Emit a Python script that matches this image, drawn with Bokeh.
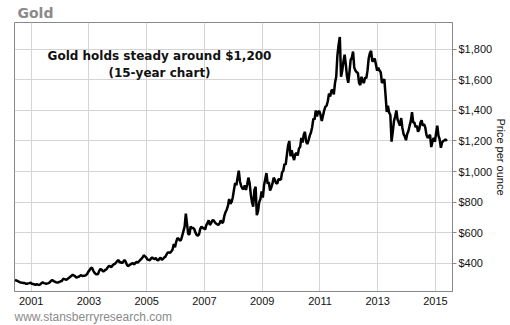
from bokeh.plotting import figure
from bokeh.models import Range1d, FixedTicker, Label, NumeralTickFormatter, Title
from bokeh.embed import file_html
from bokeh.resources import INLINE

# Semi-monthly gold prices (USD/oz)
first_month_2000 = 6  # series starts in June 2000
p2000 = [290, 287, 284, 280, 276, 274, 273, 270, 270, 266, 266, 268, 270, 273]
p2001 = [266, 264, 262, 258, 264, 260, 258, 262, 270, 274, 270, 268,
         266, 268, 270, 276, 285, 290, 283, 280, 276, 274, 274, 278]
p2002 = [282, 284, 298, 296, 294, 292, 300, 305, 312, 318, 325, 320,
         314, 305, 310, 312, 318, 322, 316, 318, 318, 322, 330, 345]
p2003 = [355, 368, 370, 352, 338, 330, 328, 330, 350, 362, 358, 348,
         348, 356, 360, 372, 382, 380, 374, 385, 392, 396, 405, 415]
p2004 = [420, 405, 408, 400, 410, 422, 410, 390, 380, 388, 392, 398,
         400, 392, 402, 408, 405, 412, 420, 428, 438, 452, 445, 438]
p2005 = [425, 422, 420, 430, 438, 430, 428, 434, 422, 418, 430, 436,
         422, 428, 438, 442, 458, 470, 470, 468, 478, 490, 525, 505]
p2006 = [540, 565, 560, 548, 552, 580, 610, 640, 725, 655, 590, 590,
         640, 630, 630, 624, 600, 585, 580, 590, 625, 640, 628, 632]
p2007 = [620, 648, 665, 680, 650, 662, 680, 682, 670, 660, 655, 650,
         660, 680, 665, 668, 710, 735, 750, 775, 820, 790, 800, 830]
p2008 = [880, 925, 910, 960, 1005, 935, 905, 890, 885, 910, 880, 915,
         960, 925, 850, 800, 770, 880, 900, 715, 740, 800, 820, 870]
p2009 = [830, 910, 950, 990, 920, 930, 875, 895, 920, 960, 945, 925,
         920, 950, 950, 945, 995, 1005, 1050, 1045, 1110, 1170, 1200, 1100]
p2010 = [1140, 1100, 1075, 1115, 1120, 1105, 1150, 1160, 1220, 1190, 1240, 1260,
         1195, 1180, 1205, 1235, 1255, 1290, 1345, 1340, 1400, 1360, 1390, 1395]
p2011 = [1370, 1330, 1365, 1400, 1425, 1430, 1460, 1510, 1490, 1530, 1535, 1505,
         1580, 1620, 1760, 1830, 1880, 1620, 1660, 1720, 1765, 1700, 1620, 1580]
p2012 = [1650, 1730, 1745, 1785, 1680, 1660, 1650, 1645, 1580, 1565, 1620, 1590,
         1580, 1615, 1610, 1660, 1740, 1775, 1790, 1720, 1725, 1740, 1700, 1660]
p2013 = [1680, 1660, 1650, 1580, 1590, 1605, 1500, 1390, 1430, 1385, 1370, 1195,
         1260, 1330, 1360, 1400, 1340, 1320, 1300, 1350, 1285, 1245, 1230, 1205]
p2014 = [1245, 1265, 1300, 1330, 1388, 1320, 1320, 1290, 1300, 1260, 1275, 1320,
         1335, 1300, 1310, 1290, 1240, 1220, 1230, 1240, 1160, 1195, 1220, 1195]
p2015 = [1250, 1300, 1235, 1210, 1155, 1190, 1200, 1205, 1210, 1200]

series_by_year = [(2000, p2000), (2001, p2001), (2002, p2002), (2003, p2003),
                  (2004, p2004), (2005, p2005), (2006, p2006), (2007, p2007),
                  (2008, p2008), (2009, p2009), (2010, p2010), (2011, p2011),
                  (2012, p2012), (2013, p2013), (2014, p2014), (2015, p2015)]

year_ticks = [2001, 2003, 2005, 2007, 2009, 2011, 2013, 2015]
price_ticks = [400, 600, 800, 1000, 1200, 1400, 1600, 1800]

xs, ys = [], []
for yr, vals in series_by_year:
    m0 = (first_month_2000 - 1) if yr == 2000 else 0
    for i, v in enumerate(vals):
        xs.append(yr + (m0 + i * 0.5 + 0.25) / 12.0)
        ys.append(v)

p = figure(width=510, height=325,
           x_range=Range1d(2000.42, 2015.59), y_range=Range1d(215, 1975),
           y_axis_location="right", toolbar_location=None, output_backend="svg",
           min_border_left=14, min_border_top=22, min_border_bottom=34,
           min_border_right=0)
p.background_fill_color = "white"
p.border_fill_color = "white"
p.outline_line_color = "#888888"
p.outline_line_width = 1

p.title.text = "Gold"
p.title.align = "left"
p.title.offset = 3
p.title.standoff = 4
p.title.text_font = "DejaVu Sans"
p.title.text_font_style = "bold"
p.title.text_font_size = "14px"
p.title.text_color = "#8a8a8a"

axis_font = "Liberation Sans"
xa = p.xaxis[0]
xa.ticker = FixedTicker(ticks=year_ticks)
xa.axis_line_color = "#888888"
xa.major_tick_out = 0
xa.major_tick_in = 0
xa.minor_tick_line_color = None
xa.major_label_text_font = axis_font
xa.major_label_text_font_size = "11px"
xa.major_label_text_color = "#111111"
xa.major_label_standoff = 5

ya = p.yaxis[0]
ya.ticker = FixedTicker(ticks=price_ticks)
ya.formatter = NumeralTickFormatter(format="$0,0")
ya.axis_line_color = "#888888"
ya.major_tick_line_color = "#888888"
ya.major_tick_out = 4
ya.major_tick_in = 0
ya.minor_tick_line_color = None
ya.major_label_text_font = axis_font
ya.major_label_text_font_size = "11px"
ya.major_label_text_color = "#111111"
ya.major_label_standoff = 2
ya.axis_label = "Price per ounce"
ya.axis_label_text_font = axis_font
ya.axis_label_text_font_size = "11px"
ya.axis_label_text_font_style = "normal"
ya.axis_label_text_color = "#111111"
ya.axis_label_standoff = 0

p.xgrid.ticker = FixedTicker(ticks=year_ticks)
p.ygrid.ticker = FixedTicker(ticks=price_ticks)
p.xgrid.grid_line_color = "#d4d4d4"
p.ygrid.grid_line_color = "#d4d4d4"

p.line(xs, ys, line_color="black", line_width=2.5)

p.add_layout(Label(x=145, y=236, x_units="screen", y_units="screen",
                   text="Gold holds steady around $1,200",
                   text_font="DejaVu Sans", text_font_style="bold",
                   text_font_size="12px", text_color="#111111",
                   text_baseline="middle", text_align="center"))
p.add_layout(Label(x=145, y=219, x_units="screen", y_units="screen",
                   text="(15-year chart)",
                   text_font="DejaVu Sans", text_font_style="bold",
                   text_font_size="12px", text_color="#111111",
                   text_baseline="middle", text_align="center"))
p.add_layout(Title(text="www.stansberryresearch.com", align="left", offset=0,
                   standoff=0, text_font="Liberation Sans",
                   text_font_size="12px", text_font_style="normal",
                   text_color="#8a8a8a"), "below")

open("out.html", "w").write(file_html(p, INLINE))
